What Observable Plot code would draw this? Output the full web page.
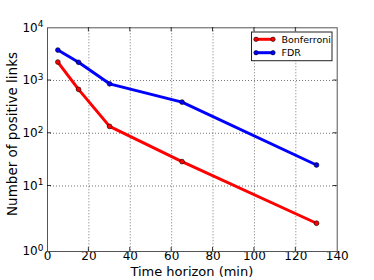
<!DOCTYPE html>
<html>
<head>
<meta charset="utf-8">
<script src="https://cdn.jsdelivr.net/npm/d3@7"></script>
<script src="https://cdn.jsdelivr.net/npm/@observablehq/plot@0.6"></script>
<style>
  html, body { margin: 0; padding: 0; background: #fff; }
  #chart { position: relative; width: 374px; height: 280px; }
  svg { font-family: "DejaVu Sans", sans-serif; }
</style>
</head>
<body>
<div id="chart"></div>
<script>
// Data
const timeHorizon = [5, 15, 30, 65, 130];
const bonferroni = [2240, 680, 135, 29, 2.7];
const fdr = [3780, 2215, 865, 390, 25];
const seriesNames = ["Bonferroni", "FDR"];
const seriesColors = ["#ff0000", "#0000ff"];
const xTicks = [0, 20, 40, 60, 80, 100, 120, 140];
const xGrid = [20, 40, 60, 80, 100, 120];
const yExponents = [0, 1, 2, 3, 4];
const yTicks = yExponents.map(e => Math.pow(10, e));
const xLabel = "Time horizon (min)";
const yLabel = "Number of positive links";

const rows = [];
[bonferroni, fdr].forEach((vals, si) => {
  vals.forEach((v, i) => rows.push({series: seriesNames[si], t: timeHorizon[i], n: v}));
});

const W = 374, H = 280;
const mL = 47, mR = 37.3, mT = 27.3, mB = 29;

const plot = Plot.plot({
  width: W,
  height: H,
  marginLeft: mL,
  marginRight: mR,
  marginTop: mT,
  marginBottom: mB,
  style: {fontFamily: "DejaVu Sans, sans-serif", fontSize: "12px", color: "#000", background: "#fff"},
  x: {domain: [0, 140], label: null},
  y: {type: "log", domain: [1, 10, 10000], range: [H - mB, 185.5, mT], label: null},
  color: {domain: seriesNames, range: seriesColors},
  marks: [
    Plot.gridX(xGrid, {stroke: "#000", strokeOpacity: 0.55, strokeDasharray: "1,2"}),
    Plot.gridY(yTicks.slice(1, -1), {stroke: "#000", strokeOpacity: 0.55, strokeDasharray: "1,2"}),
    Plot.axisX(xTicks, {tickSize: 0, tickPadding: 0, fontSize: 12, tickFormat: d => String(d)}),
    Plot.axisY(yTicks, {tickSize: 0, tickPadding: 4, fontSize: 12, tickFormat: d => "10|" + Math.round(Math.log10(d))}),
    Plot.frame({stroke: "#555", strokeWidth: 1}),
    Plot.line(rows, {x: "t", y: "n", z: "series", stroke: "series", strokeWidth: 3}),
    Plot.dot(rows, {x: "t", y: "n", fill: "series", stroke: "#000", strokeWidth: 0.6, r: 2.4})
  ]
});

document.getElementById("chart").appendChild(plot);

const svg = d3.select(plot);
// superscript tick labels
svg.selectAll('g[aria-label="y-axis tick label"] text').each(function() {
  const t = d3.select(this);
  const s = t.text();
  if (s.indexOf("|") < 0) return;
  const [base, exp] = s.split("|");
  t.text(base);
  t.append("tspan").attr("dy", "-0.5em").attr("font-size", "9px").text(exp);
});

// inward ticks on all sides
const xs = plot.scale("x"), ys = plot.scale("y");
const tg = svg.append("g").attr("stroke", "#000").attr("stroke-width", 0.8);
xTicks.slice(1, -1).forEach(v => {
  const px = xs.apply(v);
  tg.append("line").attr("x1", px).attr("x2", px).attr("y1", H - mB).attr("y2", H - mB - 4);
  tg.append("line").attr("x1", px).attr("x2", px).attr("y1", mT).attr("y2", mT + 4);
});
yTicks.slice(1, -1).forEach(v => {
  const py = ys.apply(v);
  tg.append("line").attr("x1", mL).attr("x2", mL + 4).attr("y1", py).attr("y2", py);
  tg.append("line").attr("x1", W - mR).attr("x2", W - mR - 4).attr("y1", py).attr("y2", py);
});

// axis labels
svg.append("text")
  .attr("x", (mL + W - mR) / 2).attr("y", 276)
  .attr("text-anchor", "middle").attr("font-size", "13px").attr("fill", "#000")
  .text(xLabel);
svg.append("text")
  .attr("transform", `translate(16.7,134) rotate(-90)`)
  .attr("text-anchor", "middle").attr("font-size", "13.5px").attr("fill", "#000")
  .text(yLabel);

// legend
const lg = svg.append("g");
lg.append("rect").attr("x", 251.5).attr("y", 32).attr("width", 80.5).attr("height", 28.7)
  .attr("fill", "#fff").attr("stroke", "#222").attr("stroke-width", 1);
seriesNames.forEach((name, i) => {
  const y = 39.3 + i * 13.4;
  lg.append("line").attr("x1", 256).attr("x2", 273).attr("y1", y).attr("y2", y)
    .attr("stroke", seriesColors[i]).attr("stroke-width", 3);
  [256, 273].forEach(cx => lg.append("circle").attr("cx", cx).attr("cy", y).attr("r", 2.2)
    .attr("fill", seriesColors[i]).attr("stroke", "#000").attr("stroke-width", 0.6));
  lg.append("text").attr("x", 281.5).attr("y", y + 3.5).attr("text-anchor", "start")
    .attr("font-size", "9.5px").attr("fill", "#000").text(name);
});
</script>
</body>
</html>
